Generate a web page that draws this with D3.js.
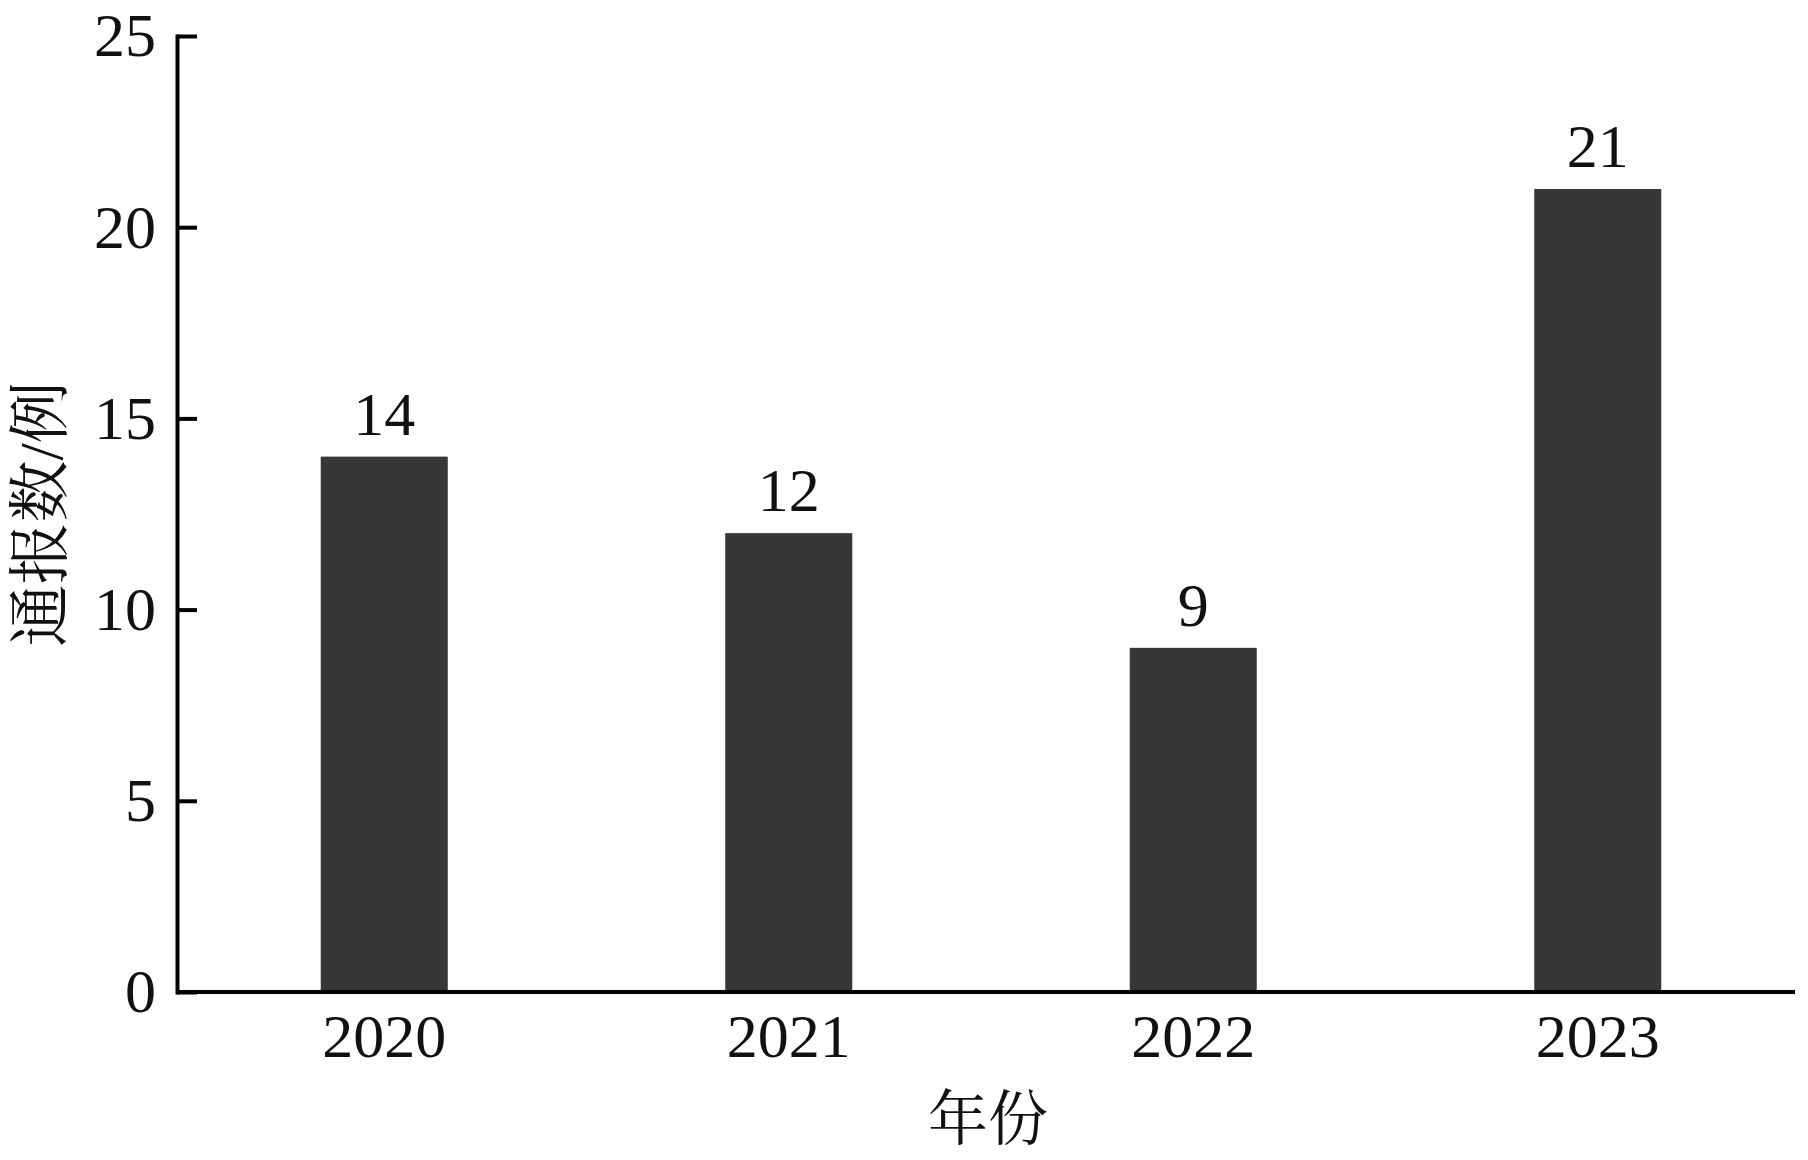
<!DOCTYPE html>
<html>
<head>
<meta charset="utf-8">
<script src="https://cdn.jsdelivr.net/npm/d3@7"></script>
<style>
	body { margin: 0; background: #fff; }
	svg text { font-family: "Liberation Serif", "Times New Roman", "Noto Serif CJK SC", "Noto Sans CJK SC", serif; fill: #111; }
</style>
</head>
<body>
<div id="chart"></div>
<script>
// data
var years = ["2020", "2021", "2022", "2023"];
var counts = [14, 12, 9, 21];
var yTicks = [0, 5, 10, 15, 20, 25];
var xTitle = "年份";
var yTitle = "通报数/例";

(function() {
	var width = 1808;
	var height = 1160;
	// plot edges
	var left = 177, right = 1795, top = 36, bottom = 992;

	var svg = d3.select("#chart")
		.append("svg")
		.attr("width", width)
		.attr("height", height);

	var x = d3.scaleBand()
		.domain(years)
		.range([left + 5, right + 5])
		.paddingInner(0.686)
		.paddingOuter(0.343);

	var y = d3.scaleLinear()
		.domain([0, 25])
		.range([bottom, top]);

	// bars
	svg.append("g")
		.selectAll("rect")
		.data(counts)
		.enter()
		.append("rect")
		.attr("x", function(d, i) { return x(years[i]); })
		.attr("y", function(d) { return y(d); })
		.attr("width", x.bandwidth())
		.attr("height", function(d) { return y(0) - y(d); })
		.attr("fill", "#373737");

	// value labels
	svg.append("g")
		.selectAll("text")
		.data(counts)
		.enter()
		.append("text")
		.attr("x", function(d, i) { return x(years[i]) + x.bandwidth() / 2; })
		.attr("y", function(d) { return y(d) - 22; })
		.attr("text-anchor", "middle")
		.style("font-size", "62px")
		.text(function(d) { return d; });

	// y axis, ticks pointing inwards
	var yAxis = svg.append("g")
		.attr("transform", "translate(" + left + ",0)")
		.call(d3.axisLeft(y)
			.tickValues(yTicks)
			.tickSizeInner(-20)
			.tickSizeOuter(0)
			.tickPadding(21));
	yAxis.selectAll("line").attr("stroke", "#000").attr("stroke-width", 4);
	yAxis.select(".domain").attr("stroke", "#000").attr("stroke-width", 4).attr("stroke-linecap", "square");
	yAxis.selectAll("text").style("font-size", "62px").attr("fill", "#111");

	// x axis, no ticks
	var xAxis = svg.append("g")
		.attr("transform", "translate(0," + bottom + ")")
		.call(d3.axisBottom(x).tickSize(0).tickPadding(21));
	xAxis.select(".domain").remove();
	xAxis.append("line")
		.attr("x1", left)
		.attr("x2", right)
		.attr("stroke", "#000")
		.attr("stroke-width", 4);
	xAxis.selectAll("text").style("font-size", "62px").attr("fill", "#111");

	// axis titles
	svg.append("text")
		.attr("x", (left + right) / 2 + 2)
		.attr("y", 1140)
		.attr("text-anchor", "middle")
		.style("font-size", "60px")
		.text(xTitle);

	svg.append("text")
		.attr("transform", "translate(41," + ((top + bottom) / 2) + ") rotate(-90)")
		.attr("text-anchor", "middle")
		.attr("dominant-baseline", "central")
		.style("font-size", "62px")
		.text(yTitle);
})();
</script>
</body>
</html>
